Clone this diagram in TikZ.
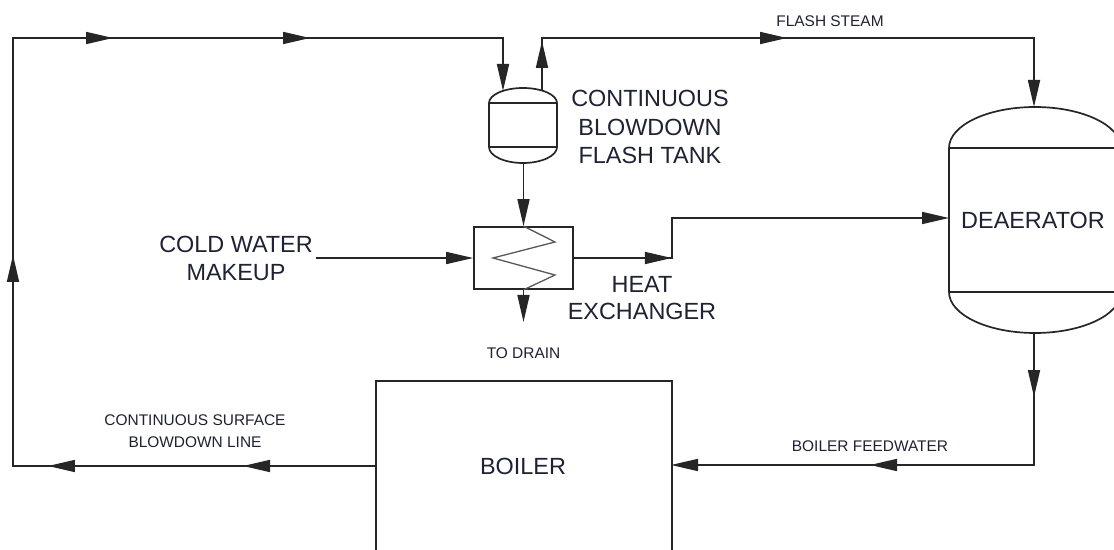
\documentclass[tikz,border=0pt]{standalone}
\usepackage{fontspec}
\setmainfont{Liberation Sans}
\usetikzlibrary{arrows.meta,decorations.markings}
\definecolor{linec}{HTML}{262626}
\definecolor{txtc}{HTML}{1E2233}
\begin{document}
\begin{tikzpicture}[x=1bp,y=-1bp,
  pipe/.style={line width=1.7bp,draw=linec},
  >={Triangle[length=27bp,width=12bp]},
  arrowat/.style={postaction={decorate,decoration={markings,mark=at position #1 with {\arrow[linec]{>}}}}},
  big/.style={font=\fontsize{23.5}{29}\selectfont,text=txtc,inner sep=0pt,align=center},
  small/.style={font=\fontsize{15.5}{22}\selectfont,text=txtc,inner sep=0pt,align=center},
]
\useasboundingbox (0,0) rectangle (1114,550);
\clip (0,0) rectangle (1114,550);
\fill[white] (0,0) rectangle (1114,550);

% heat exchanger and boiler
\node[pipe, draw, minimum width=99bp, minimum height=62bp, inner sep=0pt] (hx) at (523.5,258) {};
\node[pipe, draw, minimum width=296bp, minimum height=190bp, inner sep=0pt, anchor=north west] (boiler) at (375,380) {};
\draw[line width=1.3bp, draw=gray!70!black] (hx.north) -- (555,242) -- (493,258) -- (555,275) -- (hx.south);

% flash tank
\draw[pipe] (489,103) -- (489,147) arc[start angle=180,end angle=360,x radius=34bp,y radius=16bp]
  -- (557,103) arc[start angle=0,end angle=180,x radius=34bp,y radius=15bp] -- cycle;
\draw[pipe] (489,103) -- (557,103) (489,147) -- (557,147);

% deaerator
\draw[pipe] (949,148) -- (949,292) arc[start angle=180,end angle=360,x radius=86bp,y radius=41bp]
  -- (1121,148) arc[start angle=0,end angle=180,x radius=86bp,y radius=41bp] -- cycle;
\draw[pipe] (949,148) -- (1121,148) (949,292) -- (1121,292);

% named ends
\coordinate (bl) at (375,466);
\coordinate (br) at (671,465);
\coordinate (tin) at (503,91);
\coordinate (tout) at (542,91);
\coordinate (tbot) at (523.5,163);
\coordinate (dtop) at (1034,107);
\coordinate (dleft) at (949,218);
\coordinate (dbot) at (1034,333);
\coordinate (drain) at (523.5,322);
\coordinate (cw) at (316,258);

% connectors
\draw[pipe,->,arrowat=132bp,arrowat=327bp,arrowat=573bp,arrowat=890bp,arrowat=1087bp]
  (bl) -- (13,466) -- (13,38) -- (503,38) -- (tin);
\draw[pipe,->,arrowat=50bp,arrowat=298bp] (tout) -- (542,38) -- (1034,38) -- (dtop);
\draw[pipe,->] (tbot) -- (hx.north);
\draw[pipe,->] (hx.south) -- (drain);
\draw[pipe,->] (cw) -- (hx.west);
\draw[pipe,->,arrowat=98bp] (hx.east) -- (672,258) -- (672,218) -- (dleft);
\draw[pipe,->,arrowat=64bp,arrowat=296bp] (dbot) -- (1034,465) -- (br);

% labels
\node[small] (lfs) at (830,21) {FLASH STEAM};
\node[big] (ltank) at (650,127) {CONTINUOUS\\BLOWDOWN\\FLASH TANK};
\node[big,font=\fontsize{23.5}{28}\selectfont] (lcw) at (236,258) {COLD WATER\\MAKEUP};
\node[big,font=\fontsize{23.5}{27}\selectfont] (lhx) at (642,298) {HEAT\\EXCHANGER};
\node[big] (lda) at (1033,220) {DEAERATOR};
\node[small] (ldr) at (523.5,353) {TO DRAIN};
\node[small] (lcs) at (195,431) {CONTINUOUS SURFACE\\BLOWDOWN LINE};
\node[small] (lbf) at (870,446) {BOILER FEEDWATER};
\node[big] (lbo) at (523,466) {BOILER};
\end{tikzpicture}
\end{document}
